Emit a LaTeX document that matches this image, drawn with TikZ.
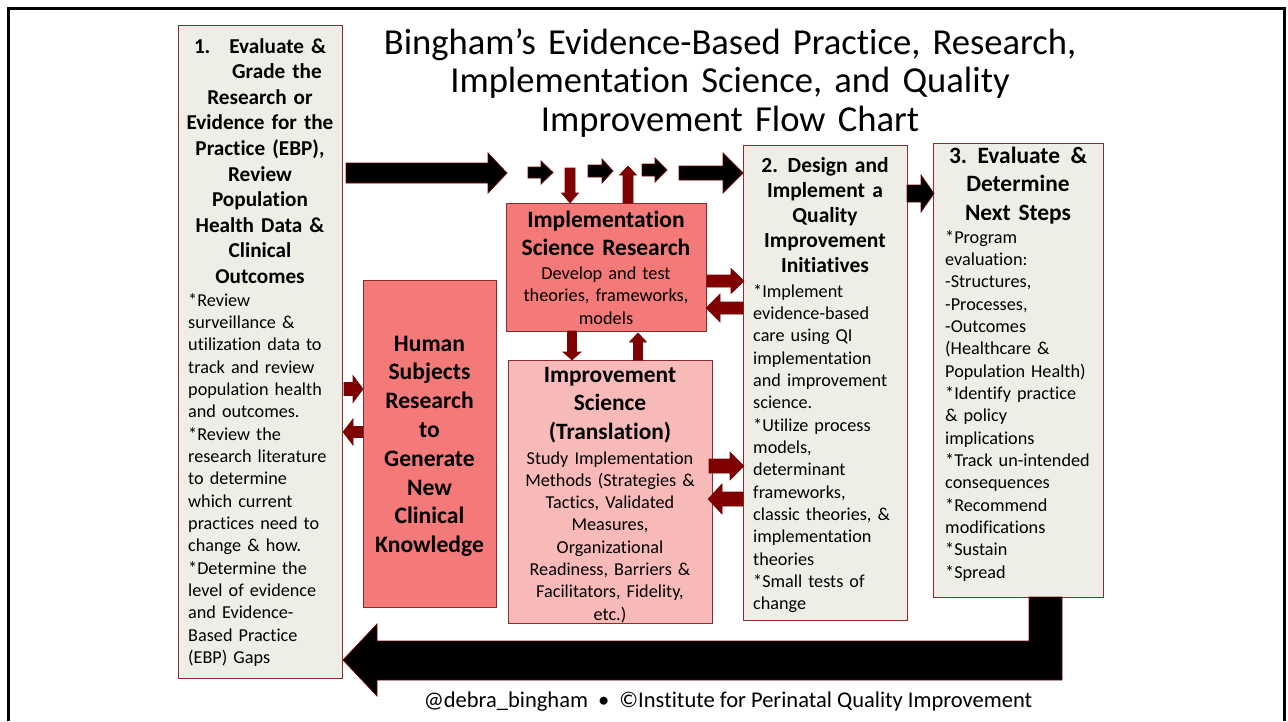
\documentclass[tikz,border=0pt]{standalone}
\usepackage{fontspec}
\setmainfont{Carlito}[Ligatures=NoCommon]

\definecolor{boxfill}{RGB}{238,238,230}
\definecolor{boxline}{RGB}{140,45,45}
\definecolor{salmon}{RGB}{244,121,121}
\definecolor{pinklight}{RGB}{248,185,185}
\definecolor{maroon}{RGB}{128,0,0}
\definecolor{arrowedge}{RGB}{110,10,10}

% horizontal block arrow: style, tail x, tip x, mid y, shaft half, head half, head length
\newcommand\hblock[7]{%
  \pgfmathsetmacro\neckx{#3-sign(#3-#2)*#7}%
  \draw[#1] (#2,#4-#5) -- (\neckx,#4-#5) -- (\neckx,#4-#6) -- (#3,#4)
    -- (\neckx,#4+#6) -- (\neckx,#4+#5) -- (#2,#4+#5) -- cycle;}
% vertical block arrow: style, mid x, tail y, tip y, shaft half, head half, head length
\newcommand\vblock[7]{%
  \pgfmathsetmacro\necky{#4-sign(#4-#3)*#7}%
  \draw[#1] (#2-#5,#3) -- (#2-#5,\necky) -- (#2-#6,\necky) -- (#2,#4)
    -- (#2+#6,\necky) -- (#2+#5,\necky) -- (#2+#5,#3) -- cycle;}

\begin{document}
\begin{tikzpicture}[x=1pt,y=-1pt,
  panel/.style={draw=boxline, line width=1.1pt, inner sep=0pt, anchor=north west},
  headtext/.style={inner sep=0pt, anchor=base, align=center},
  bodytext/.style={inner sep=0pt, anchor=base west, align=left,
    font=\fontsize{18.2}{22.35}\selectfont},
  blackarrow/.style={fill=black, draw=arrowedge, line width=0.8pt},
  redarrow/.style={fill=maroon, draw=arrowedge, line width=0.6pt}]
\useasboundingbox (0,0) rectangle (1288,721);

% slide frame
\draw[line width=3pt] (8,721) -- (8,8.5) -- (1284.5,8.5) -- (1284.5,721);

% title
\node[headtext, text width=740, font=\fontsize{36.6}{38.5}\selectfont] (title) at (730,54)
  {Bingham’s Evidence-Based Practice, Research,\\
   Implementation Science, and Quality\\
   Improvement Flow Chart};

% ---------- boxes ----------
\node[panel, fill=boxfill, minimum width=164, minimum height=653] (evidence) at (178,25) {};
\node[panel, fill=boxfill, minimum width=164, minimum height=475] (design) at (743,145) {};
\node[panel, fill=boxfill, minimum width=170, minimum height=454] (evaluate) at (933,143) {};
\node[panel, fill=salmon, minimum width=200, minimum height=128] (isr) at (506,203) {};
\node[panel, fill=salmon, minimum width=133, minimum height=327] (human) at (363,280) {};
\node[panel, fill=pinklight, minimum width=204, minimum height=263] (impsci) at (508,360) {};

% box 1
\node[headtext, text width=158, font=\fontsize{21.2}{25.6}\selectfont\bfseries] (evidence-head) at (260,53)
  {1.\hspace{19pt}Evaluate \&\\
   \hspace*{34pt}Grade the\\
   Research or\\
   Evidence for the\\
   Practice (EBP),\\
   Review\\
   Population\\
   Health Data \&\\
   Clinical\\
   Outcomes};
\node[bodytext, text width=152] (evidence-body) at (188,306)
  {*Review\\
   surveillance \&\\
   utilization data to\\
   track and review\\
   population health\\
   and outcomes.\\{}%
   *Review the\\
   research literature\\
   to determine\\
   which current\\
   practices need to\\
   change \& how.\\{}%
   *Determine the\\
   level of evidence\\
   and Evidence-\\
   Based Practice\\
   (EBP) Gaps};

% box 2
\node[headtext, text width=158, font=\fontsize{21.5}{25.2}\selectfont\bfseries] (design-head) at (825,172)
  {2.\hspace{0.45em}Design and\\
   Implement a\\
   Quality\\
   Improvement\\
   Initiatives};
\node[bodytext, text width=152] (design-body) at (753,297)
  {*Implement\\
   evidence-based\\
   care using QI\\
   implementation\\
   and improvement\\
   science.\\{}%
   *Utilize process\\
   models,\\
   determinant\\
   frameworks,\\
   classic theories, \&\\
   implementation\\
   theories\\{}%
   *Small tests of\\
   change};

% box 3
\node[headtext, text width=164, font=\fontsize{23.4}{28.5}\selectfont\bfseries] (evaluate-head) at (1018,163)
  {3.\hspace{0.45em}Evaluate\hspace{0.45em}\&\\
   Determine\\
   Next Steps};
\node[bodytext, text width=156] (evaluate-body) at (945,243)
  {*Program\\
   evaluation:\\
   -Structures,\\
   -Processes,\\
   -Outcomes\\
   (Healthcare \&\\
   Population Health)\\{}%
   *Identify practice\\
   \& policy\\
   implications\\{}%
   *Track un-intended\\
   consequences\\{}%
   *Recommend\\
   modifications\\{}%
   *Sustain\\{}%
   *Spread};

% implementation science research
\node[headtext, text width=196, font=\fontsize{23.5}{28}\selectfont\bfseries] (isr-head) at (606,227)
  {Implementation\\ Science Research};
\node[headtext, text width=196, font=\fontsize{18.3}{22.5}\selectfont] (isr-body) at (606,279)
  {Develop and test\\ theories, frameworks,\\ models};

% human subjects research
\node[headtext, text width=130, font=\fontsize{23.6}{28.8}\selectfont\bfseries] (human-head) at (429.5,351)
  {Human\\ Subjects\\ Research\\ to\\ Generate\\ New\\ Clinical\\ Knowledge};

% improvement science
\node[headtext, text width=200, font=\fontsize{23.4}{28.7}\selectfont\bfseries] (impsci-head) at (610,382)
  {Improvement\\ Science\\ (Translation)};
\node[headtext, text width=200, font=\fontsize{18.2}{22.3}\selectfont] (impsci-body) at (610,464)
  {Study Implementation\\ Methods (Strategies \&\\ Tactics, Validated\\ Measures,\\
   Organizational\\ Readiness, Barriers \&\\ Facilitators, Fidelity,\\ etc.)};

% ---------- main flow arrows (black) ----------
\hblock{blackarrow}{346}{507}{173}{10}{20}{19}
\hblock{blackarrow}{528}{553}{172.5}{5.5}{11.5}{12}
\hblock{blackarrow}{588}{613}{171}{6}{12}{11}
\hblock{blackarrow}{642}{667}{170}{6}{12}{12}
\hblock{blackarrow}{679}{743}{173}{7}{20}{20}
\hblock{blackarrow}{907}{934}{193.5}{8.5}{18.5}{13}
% return loop from box 3 back to box 1
\draw[blackarrow] (1029,597) -- (1062,597) -- (1062,680) -- (377,680) -- (377,696)
  -- (343,660) -- (377,624) -- (377,641) -- (1029,641) -- cycle;

% ---------- exchange arrows (dark red) ----------
\vblock{redarrow}{570}{168}{203}{5}{8.5}{10}
\vblock{redarrow}{628}{203}{166}{5}{8.5}{9}
\vblock{redarrow}{572}{331}{360}{4.5}{9}{8}
\vblock{redarrow}{638}{360}{333}{4.5}{8.5}{9}
\hblock{redarrow}{707}{744}{281}{6}{12.5}{13}
\hblock{redarrow}{743}{706}{308}{6}{14}{14}
\hblock{redarrow}{709}{744}{466}{7}{14}{14}
\hblock{redarrow}{743}{708}{499}{7}{15}{14}
\hblock{redarrow}{344}{363}{389}{6.5}{13.5}{10}
\hblock{redarrow}{363}{343}{432}{5.5}{13}{10}

% footer
\node[inner sep=0pt, anchor=base, font=\fontsize{22.5}{26}\selectfont] (footer) at (728,707)
  {@debra\_bingham\hspace{0.45em}•\hspace{0.45em}©Institute for Perinatal Quality Improvement};
\end{tikzpicture}
\end{document}
